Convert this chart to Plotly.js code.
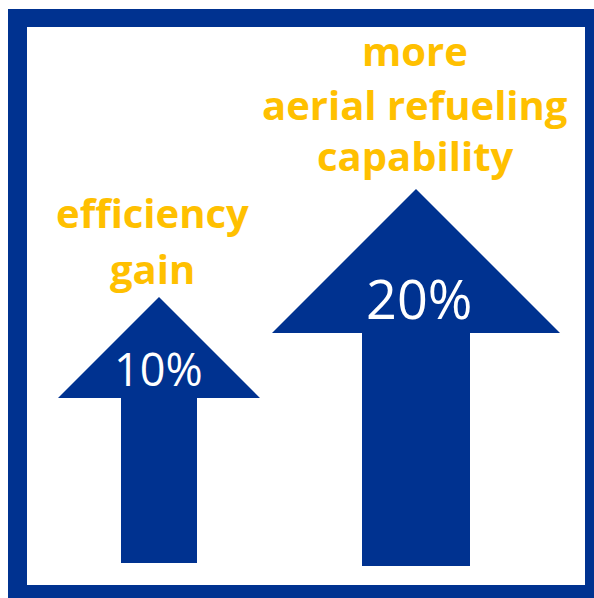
<!DOCTYPE html>
<html><head><meta charset="utf-8">
<script src="https://cdn.plot.ly/plotly-3.0.1.min.js"></script>
<style>html,body{margin:0;padding:0;background:#fff;}#chart{width:594px;height:598px;}</style>
</head><body><div id="chart"></div>
<script>
// Data
const labels = ["efficiency<br>gain", "more<br>aerial refueling<br>capability"];
const values = [10, 20];
const valueText = ["10%", "20%"];

// Layout geometry (pixel coordinates), kept separate from data
const BLUE = "#003290", GOLD = "#FFC000";
const arrowGeom = [
  {cx: 159, tip: 297, headBase: 398, headHalf: 101, shaftHalf: 38, bottom: 563},
  {cx: 416, tip: 189, headBase: 333, headHalf: 144, shaftHalf: 54, bottom: 566}
];
const labelLinePos = [
  {x: 152, ys: [212, 268], size: 40},
  {x: 415, ys: [50, 104, 155], size: 40}
];
const valuePos = [{x: 158, y: 368, size: 45}, {x: 419, y: 298, size: 54}];

const traces = arrowGeom.map((g, i) => ({
  type: "scatter", mode: "lines", fill: "toself", fillcolor: BLUE,
  line: {width: 0, color: BLUE}, hoverinfo: "skip", showlegend: false,
  name: valueText[i],
  x: [g.cx, g.cx + g.headHalf, g.cx + g.shaftHalf, g.cx + g.shaftHalf, g.cx - g.shaftHalf, g.cx - g.shaftHalf, g.cx - g.headHalf, g.cx],
  y: [g.tip, g.headBase, g.headBase, g.bottom, g.bottom, g.headBase, g.headBase, g.tip]
}));

const annotations = [];
labels.forEach((l, i) => {
  l.split("<br>").forEach((line, j) => {
    annotations.push({x: labelLinePos[i].x, y: labelLinePos[i].ys[j], xref: "x", yref: "y", text: line, showarrow: false,
      xanchor: "center", yanchor: "middle",
      font: {family: "Open Sans", size: labelLinePos[i].size, color: GOLD, weight: 700}});
  });
  annotations.push({x: valuePos[i].x, y: valuePos[i].y, xref: "x", yref: "y", text: valueText[i], showarrow: false,
    xanchor: "center", yanchor: "middle",
    font: {family: "Open Sans", size: valuePos[i].size, color: "#ffffff", weight: 400}});
});

const layout = {
  width: 594, height: 598, margin: {l: 0, r: 0, t: 0, b: 0},
  paper_bgcolor: "#ffffff", plot_bgcolor: "#ffffff",
  xaxis: {range: [0, 594], visible: false, fixedrange: true},
  yaxis: {range: [598, 0], visible: false, fixedrange: true},
  shapes: [
    {type: "rect", xref: "x", yref: "y", x0: 8, y0: 9, x1: 600, y1: 604, fillcolor: BLUE, line: {width: 0}, layer: "below"},
    {type: "rect", xref: "x", yref: "y", x0: 27, y0: 27, x1: 585, y1: 585, fillcolor: "#ffffff", line: {width: 0}, layer: "below"}
  ],
  annotations: annotations
};
Plotly.newPlot("chart", traces, layout, {staticPlot: true, displayModeBar: false});
</script></body></html>
